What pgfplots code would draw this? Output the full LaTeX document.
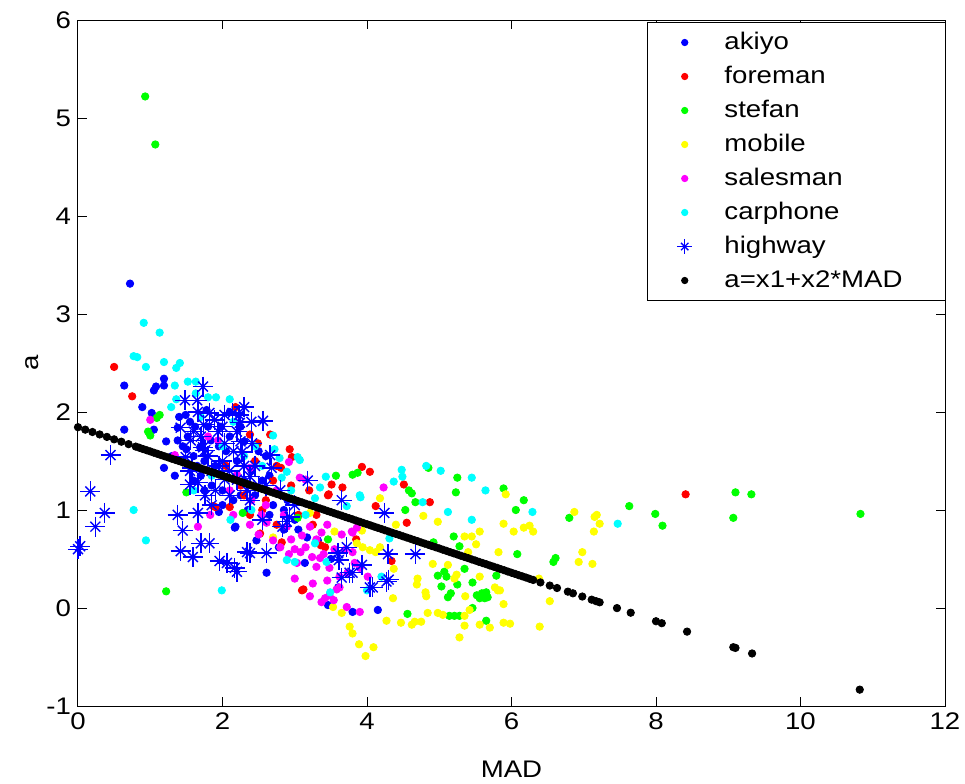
\documentclass[border=0pt]{standalone}
\usepackage{fontspec}
\setmainfont{Liberation Sans}[FakeStretch=1.15]
\usepackage{pgfplots}
\pgfplotsset{compat=1.18}
\definecolor{mblue}{rgb}{0,0,1}
\definecolor{mred}{rgb}{1,0,0}
\definecolor{mgreen}{rgb}{0,1,0}
\definecolor{myellow}{rgb}{1,1,0}
\definecolor{mmagenta}{rgb}{1,0,1}
\definecolor{mcyan}{rgb}{0,1,1}
\begin{document}
\begin{tikzpicture}
\begin{axis}[
  scale only axis, width=433.5pt, height=343pt,
  xmin=0, xmax=12, ymin=-1, ymax=6,
  xtick={0,2,4,6,8,10,12}, ytick={-1,0,1,2,3,4,5,6},
  tick align=inside, major tick length=4.5pt,
  axis line style={line width=0.5pt},
  every tick/.style={black, line width=0.5pt},
  /pgf/number format/assume math mode=true,
  tick label style={font=\fontsize{12}{14}\selectfont},
  label style={font=\fontsize{12}{14}\selectfont},
  xlabel={MAD}, ylabel={a},
  xlabel style={at={(axis description cs:0.5,-0.07)}, anchor=north},
  ylabel style={at={(axis description cs:-0.053,0.5)}, anchor=center, rotate=0},
  legend cell align=left,
  legend image code/.code={\path (0cm,-2pt) (0.6cm,2pt); \draw[mark repeat=2,mark phase=2,#1,mark size=1.6pt] plot coordinates {(0cm,0cm) (0.3cm,0cm) (0.6cm,0cm)};},
  legend style={at={(1,1)}, anchor=north east, xshift=0.5pt, yshift=-1pt,
    draw=black, line width=0.5pt, font=\fontsize{12}{14}\selectfont,
    inner xsep=9.5pt, inner ysep=1.5pt, row sep=0pt, column sep=8pt,
    nodes={minimum height=17pt, inner ysep=0pt, inner xsep=3pt, text width=98pt}},
  every axis plot/.append style={only marks, mark=*, mark size=1.85pt, line width=0.4pt},
]
\coordinate (o) at (rel axis cs:0,0);
% akiyo
\addplot[color=mblue] coordinates {
(0.72,3.31) (0.64,2.27) (1.19,2.34) (1.08,2.26) (1.05,2.22) (1.19,2.27) (0.89,2.05) (1.02,1.99) (0.64,1.82) (1.49,1.97)
(1.38,1.84) (1.38,1.71) (1.22,1.70) (1.19,1.43) (1.34,1.35) (1.62,1.85) (1.52,1.75) (1.69,1.64) (1.84,1.71) (1.98,1.85)
(1.05,1.82) (2.18,0.83) (2.47,0.69) (3.32,0.69) (2.61,0.36) (2.78,0.62) (3.14,0.46) (4.15,-0.02) (3.80,-0.04) (3.46,0.03)
(3.60,0.21) (3.17,0.72) (1.60,1.55) (1.75,1.50) (1.90,1.45) (2.05,1.60) (2.20,1.50) (2.30,1.70) (2.40,1.40) (1.85,1.25)
(2.00,1.20) (2.15,1.10) (2.45,1.15) (1.70,1.35) (1.55,1.90) (1.78,2.02) (2.10,2.00) (2.25,1.85) (2.55,1.30) (2.35,1.00)
(1.95,0.98) (2.65,0.95) (2.85,0.80) (3.00,0.90) (2.17,0.82) (1.50,1.62) (1.65,1.45) (2.60,1.55) (2.90,1.10) (3.50,0.50)
(1.45,1.65) (1.60,1.30) (1.75,1.20) (1.95,1.65) (2.10,1.75) (2.30,1.30) (2.50,1.60) (2.70,1.05) (1.80,1.85) (1.40,1.95)
(2.25,1.15) (2.00,1.05) (2.65,1.35) (2.85,1.00) (3.05,0.80) (1.30,1.55)
};
\addlegendentry{akiyo}
% foreman
\addplot[color=mred] coordinates {
(0.50,2.46) (0.75,2.16) (2.18,2.05) (2.38,1.77) (2.49,1.68) (2.66,1.77) (2.93,1.62) (2.96,1.54) (2.81,1.43) (3.93,1.44)
(4.04,1.39) (3.66,1.23) (3.51,1.26) (4.12,1.04) (4.55,0.87) (3.47,1.16) (3.12,0.19) (3.42,0.62) (4.51,1.26) (4.87,1.08)
(4.34,0.48) (3.46,1.15) (2.52,0.76) (2.82,0.67) (3.36,0.64) (3.10,0.18) (8.41,1.16) (1.90,1.03) (2.10,1.03) (2.38,0.95)
(1.87,1.04) (2.60,1.10) (3.05,0.95) (2.75,0.85) (3.25,0.85) (2.25,1.25) (3.85,0.70) (2.70,1.30) (3.20,1.20) (2.45,1.50)
(2.05,1.45) (2.30,1.15) (2.55,1.00) (2.95,1.25) (3.30,0.95) (2.75,1.45)
};
\addlegendentry{foreman}
% stefan
\addplot[color=mgreen] coordinates {
(0.93,5.22) (1.07,4.73) (1.22,0.17) (1.13,1.97) (1.09,1.94) (0.97,1.80) (1.00,1.76) (7.63,1.04) (7.99,0.96) (8.09,0.84)
(9.10,1.18) (9.32,1.16) (9.07,0.92) (10.83,0.96) (6.80,0.92) (5.25,1.33) (5.23,1.18) (5.89,1.22) (6.17,1.10) (6.06,1.00)
(4.53,1.00) (4.58,1.20) (4.62,1.17) (4.67,1.08) (4.85,1.43) (5.20,0.73) (5.28,0.63) (4.92,0.67) (6.08,0.55) (6.61,0.51)
(6.58,0.47) (4.98,0.33) (5.07,0.37) (5.10,0.32) (5.03,0.22) (5.25,0.24) (5.16,0.15) (5.12,0.11) (5.35,0.40) (5.79,0.33)
(5.46,0.26) (5.52,0.13) (5.59,0.15) (5.65,0.16) (5.67,0.11) (5.63,0.10) (5.56,0.10) (5.46,0.00) (5.14,-0.08) (5.28,-0.08)
(4.56,-0.06) (5.65,-0.13) (3.57,1.35) (3.80,1.36) (3.87,1.38) (1.50,1.18) (3.04,0.92) (3.46,0.70) (2.28,0.97) (5.21,-0.08)
};
\addlegendentry{stefan}
% mobile
\addplot[color=myellow] coordinates {
(4.18,1.12) (5.92,1.16) (6.87,0.98) (6.93,0.47) (4.78,0.94) (4.98,0.88) (5.89,0.86) (6.03,0.78) (6.17,0.82) (6.25,0.84)
(6.30,0.78) (5.56,0.78) (5.45,0.73) (5.35,0.73) (5.51,0.65) (5.40,0.57) (5.82,0.57) (4.91,0.45) (5.12,0.44) (5.56,0.32)
(5.24,0.34) (5.21,0.30) (4.69,0.24) (4.81,0.16) (4.82,0.12) (5.77,0.21) (5.81,0.18) (5.36,0.12) (4.36,0.10) (5.89,0.04)
(6.53,0.07) (4.84,-0.05) (4.98,-0.05) (5.05,-0.07) (5.35,-0.08) (5.42,-0.02) (4.27,-0.13) (4.47,-0.15) (4.62,-0.17) (4.66,-0.14)
(4.75,-0.14) (5.35,-0.18) (5.56,-0.17) (5.70,-0.20) (5.89,-0.15) (5.98,-0.16) (6.39,-0.19) (5.28,-0.30) (7.15,0.93) (7.18,0.95)
(7.22,0.86) (7.14,0.78) (6.98,0.57) (7.12,0.45) (6.38,0.30) (4.37,0.40) (4.18,0.62) (4.12,0.57) (4.04,0.59) (3.94,0.62)
(3.86,0.66) (3.76,-0.19) (3.80,-0.26) (3.89,-0.37) (3.98,-0.49) (4.09,-0.40) (3.53,0.01) (3.65,-0.05) (3.55,0.78) (2.70,0.72)
(3.21,0.97) (3.93,0.79) (4.40,0.85) (4.70,0.30) (5.84,0.18)
};
\addlegendentry{mobile}
% salesman
\addplot[color=mmagenta] coordinates {
(1.00,1.92) (1.80,1.75) (1.94,1.71) (1.83,0.95) (1.66,0.83) (2.38,0.85) (2.89,0.83) (4.23,1.23) (1.34,1.56) (2.20,1.36)
(2.38,1.43) (3.07,1.33) (2.92,1.49) (3.15,1.31) (3.10,0.74) (3.21,0.83) (3.37,0.77) (3.08,0.57) (3.24,0.52) (3.35,0.51)
(2.92,0.55) (3.03,0.46) (3.30,0.42) (3.48,0.41) (3.00,0.30) (3.21,0.12) (3.48,0.13) (3.54,0.08) (3.80,0.57) (3.80,0.77)
(3.72,0.01) (4.01,0.32) (3.90,0.41) (2.70,0.69) (2.61,0.87) (2.54,0.95) (3.62,0.32) (3.62,0.21) (3.69,0.59) (3.83,0.46)
(3.73,0.36) (3.58,0.19) (3.37,0.06) (3.90,-0.04) (3.79,0.78) (3.86,0.82) (2.80,0.62) (2.95,0.70) (3.15,0.62) (3.40,0.55)
(2.60,1.05) (2.75,1.20) (3.45,0.28) (3.25,0.25) (3.45,0.85) (3.65,0.75) (2.10,1.20) (3.42,0.10) (2.40,1.10) (3.55,0.60)
(2.15,0.95) (2.50,0.75) (2.85,0.95) (3.30,0.70) (3.00,0.60)
};
\addlegendentry{salesman}
% carphone
\addplot[color=mcyan] coordinates {
(0.91,2.91) (1.13,2.81) (0.77,2.57) (0.82,2.56) (0.94,2.46) (1.19,2.51) (1.36,2.45) (1.41,2.50) (1.34,2.27) (1.52,2.31)
(1.63,2.31) (1.63,2.19) (1.80,2.15) (1.91,2.15) (2.10,2.13) (1.36,2.13) (1.29,2.05) (2.70,1.76) (0.77,1.00) (0.94,0.69)
(1.99,0.18) (2.11,0.90) (2.72,1.62) (2.79,1.53) (3.04,1.54) (3.07,1.51) (3.43,1.34) (2.89,1.39) (2.82,1.33) (4.82,1.45)
(5.02,1.40) (4.48,1.41) (4.49,1.34) (4.37,1.29) (4.77,1.08) (5.45,1.33) (5.64,1.20) (5.12,0.98) (5.45,0.90) (6.29,0.98)
(4.31,0.71) (4.20,0.32) (3.28,1.12) (3.35,1.23) (3.91,1.13) (3.72,1.04) (3.28,0.66) (3.49,0.16) (7.47,0.86) (3.90,1.15)
(3.44,0.47) (2.89,0.49) (3.00,0.47) (4.00,0.18) (2.00,1.65) (2.30,1.55) (2.55,1.45) (2.15,1.90) (1.70,1.95) (2.40,1.00)
(1.85,1.35) (2.45,1.65) (2.95,1.20) (3.15,0.95) (1.60,1.20)
};
\addlegendentry{carphone}
% highway (MATLAB asterisk = plus + cross)
\addplot[color=mblue, mark=x, mark size=3.5pt, line width=0.7pt, forget plot] coordinates {
(0.17,1.19) (0.37,0.97) (0.24,0.83) (0.03,0.63) (0.00,0.60) (1.38,0.95) (1.66,0.97) (1.45,0.79) (1.70,0.66) (1.82,0.66)
(1.42,0.58) (1.59,0.52) (1.96,0.48) (2.06,0.46) (2.17,0.41) (1.76,1.15) (1.55,1.26) (1.73,2.26) (1.48,2.12) (0.45,1.56)
(1.66,2.00) (1.82,1.99) (1.74,1.87) (1.89,1.92) (2.03,1.97) (2.14,1.99) (1.94,1.80) (1.42,1.84) (1.56,1.71) (1.73,1.64)
(2.03,1.68) (1.49,1.54) (2.56,1.91) (2.23,1.97) (2.24,1.89) (2.20,1.80) (2.41,1.68) (2.66,1.56) (2.68,1.43) (3.18,1.30)
(2.27,1.59) (1.76,1.61) (1.58,1.43) (1.66,1.28) (2.03,1.31) (2.20,1.31) (2.38,1.34) (2.34,1.20) (2.10,1.15) (2.38,1.10)
(2.20,0.37) (2.38,0.56) (2.61,0.56) (2.83,0.83) (2.93,0.93) (3.60,0.56) (3.76,0.36) (4.04,0.21) (3.65,1.10) (4.24,0.97)
(4.29,0.55) (4.67,0.55) (3.72,0.62) (3.61,0.49) (3.93,0.44) (3.80,0.36) (3.65,0.31) (4.08,0.21) (4.30,0.29) (4.27,0.27)
(2.89,0.88) (2.34,0.57) (1.95,1.45) (1.85,1.40) (2.50,1.25)
(1.60,1.80) (1.80,1.55) (2.00,1.50) (2.15,1.60) (2.30,1.45) (1.90,1.20) (2.10,1.40) (2.45,1.45) (1.70,1.75) (2.00,1.85)
(2.25,1.70) (1.55,1.40) (2.60,1.25) (2.80,1.20) (3.00,1.05) (1.65,2.12) (2.30,2.05) (2.40,1.90) (1.85,1.05) (2.55,0.90)
};
\addplot[color=mblue, mark=+, mark size=5pt, line width=0.7pt,
  legend image code/.code={\path (0cm,-2pt) (0.6cm,2pt);
    \draw[mblue, line width=0.7pt] plot[only marks, mark=+, mark size=3.75pt] coordinates {(0.3cm,0cm)};
    \draw[mblue, line width=0.7pt] plot[only marks, mark=x, mark size=2.6pt] coordinates {(0.3cm,0cm)};}] coordinates {
(0.17,1.19) (0.37,0.97) (0.24,0.83) (0.03,0.63) (0.00,0.60) (1.38,0.95) (1.66,0.97) (1.45,0.79) (1.70,0.66) (1.82,0.66)
(1.42,0.58) (1.59,0.52) (1.96,0.48) (2.06,0.46) (2.17,0.41) (1.76,1.15) (1.55,1.26) (1.73,2.26) (1.48,2.12) (0.45,1.56)
(1.66,2.00) (1.82,1.99) (1.74,1.87) (1.89,1.92) (2.03,1.97) (2.14,1.99) (1.94,1.80) (1.42,1.84) (1.56,1.71) (1.73,1.64)
(2.03,1.68) (1.49,1.54) (2.56,1.91) (2.23,1.97) (2.24,1.89) (2.20,1.80) (2.41,1.68) (2.66,1.56) (2.68,1.43) (3.18,1.30)
(2.27,1.59) (1.76,1.61) (1.58,1.43) (1.66,1.28) (2.03,1.31) (2.20,1.31) (2.38,1.34) (2.34,1.20) (2.10,1.15) (2.38,1.10)
(2.20,0.37) (2.38,0.56) (2.61,0.56) (2.83,0.83) (2.93,0.93) (3.60,0.56) (3.76,0.36) (4.04,0.21) (3.65,1.10) (4.24,0.97)
(4.29,0.55) (4.67,0.55) (3.72,0.62) (3.61,0.49) (3.93,0.44) (3.80,0.36) (3.65,0.31) (4.08,0.21) (4.30,0.29) (4.27,0.27)
(2.89,0.88) (2.34,0.57) (1.95,1.45) (1.85,1.40) (2.50,1.25)
(1.60,1.80) (1.80,1.55) (2.00,1.50) (2.15,1.60) (2.30,1.45) (1.90,1.20) (2.10,1.40) (2.45,1.45) (1.70,1.75) (2.00,1.85)
(2.25,1.70) (1.55,1.40) (2.60,1.25) (2.80,1.20) (3.00,1.05) (1.65,2.12) (2.30,2.05) (2.40,1.90) (1.85,1.05) (2.55,0.90)
};
\addlegendentry{highway}
% fit
\addplot[color=black] coordinates {
(0.0,1.845) (0.1,1.820) (0.2,1.796) (0.3,1.771) (0.4,1.746) (0.5,1.721) (0.6,1.697) (0.7,1.672) (0.8,1.647) (0.85,1.635)
(0.9,1.622) (0.95,1.610) (1.0,1.598) (1.05,1.585) (1.1,1.573) (1.15,1.560) (1.2,1.548) (1.25,1.536) (1.3,1.523) (1.35,1.511)
(1.4,1.499) (1.45,1.486) (1.5,1.474) (1.55,1.461) (1.6,1.449) (1.65,1.437) (1.7,1.424) (1.75,1.412) (1.8,1.400) (1.85,1.387)
(1.9,1.375) (1.95,1.362) (2.0,1.350) (2.05,1.338) (2.1,1.325) (2.15,1.313) (2.2,1.301) (2.25,1.288) (2.3,1.276) (2.35,1.263)
(2.4,1.251) (2.45,1.239) (2.5,1.226) (2.55,1.214) (2.6,1.202) (2.65,1.189) (2.7,1.177) (2.75,1.164) (2.8,1.152) (2.85,1.140)
(2.9,1.127) (2.95,1.115) (3.0,1.103) (3.05,1.090) (3.1,1.078) (3.15,1.065) (3.2,1.053) (3.25,1.041) (3.3,1.028) (3.35,1.016)
(3.4,1.004) (3.45,0.991) (3.5,0.979) (3.55,0.966) (3.6,0.954) (3.65,0.942) (3.7,0.929) (3.75,0.917) (3.8,0.905) (3.85,0.892)
(3.9,0.880) (3.95,0.867) (4.0,0.855) (4.05,0.843) (4.1,0.830) (4.15,0.818) (4.2,0.806) (4.25,0.793) (4.3,0.781) (4.35,0.768)
(4.4,0.756) (4.45,0.744) (4.5,0.731) (4.55,0.719) (4.6,0.707) (4.65,0.694) (4.7,0.682) (4.75,0.669) (4.8,0.657) (4.85,0.645)
(4.9,0.632) (4.95,0.620) (5.0,0.608) (5.05,0.595) (5.1,0.583) (5.15,0.570) (5.2,0.558) (5.25,0.546) (5.3,0.533) (5.35,0.521)
(5.4,0.509) (5.45,0.496) (5.5,0.484) (5.55,0.471) (5.6,0.459) (5.65,0.447) (5.7,0.434) (5.75,0.422) (5.8,0.410) (5.85,0.397)
(5.9,0.385) (5.95,0.372) (6.0,0.360) (6.05,0.348) (6.1,0.335) (6.15,0.323) (6.2,0.311) (6.25,0.298) (6.3,0.286) (6.4,0.261)
(6.53,0.229) (6.63,0.204) (6.78,0.167) (6.85,0.150) (6.98,0.117) (7.11,0.085) (7.17,0.070) (7.22,0.058) (7.46,-0.001)
(7.65,-0.048) (8.00,-0.135) (8.08,-0.155) (8.43,-0.241) (9.07,-0.400) (9.10,-0.407) (9.33,-0.464) (10.82,-0.833)
};
\addlegendentry{a=x1+x2*MAD}
\end{axis}
\pgfresetboundingbox
\path[use as bounding box] (o) ++(-39pt,-38.5pt) rectangle ++(482.5pt,391.5pt);
\end{tikzpicture}
\end{document}
